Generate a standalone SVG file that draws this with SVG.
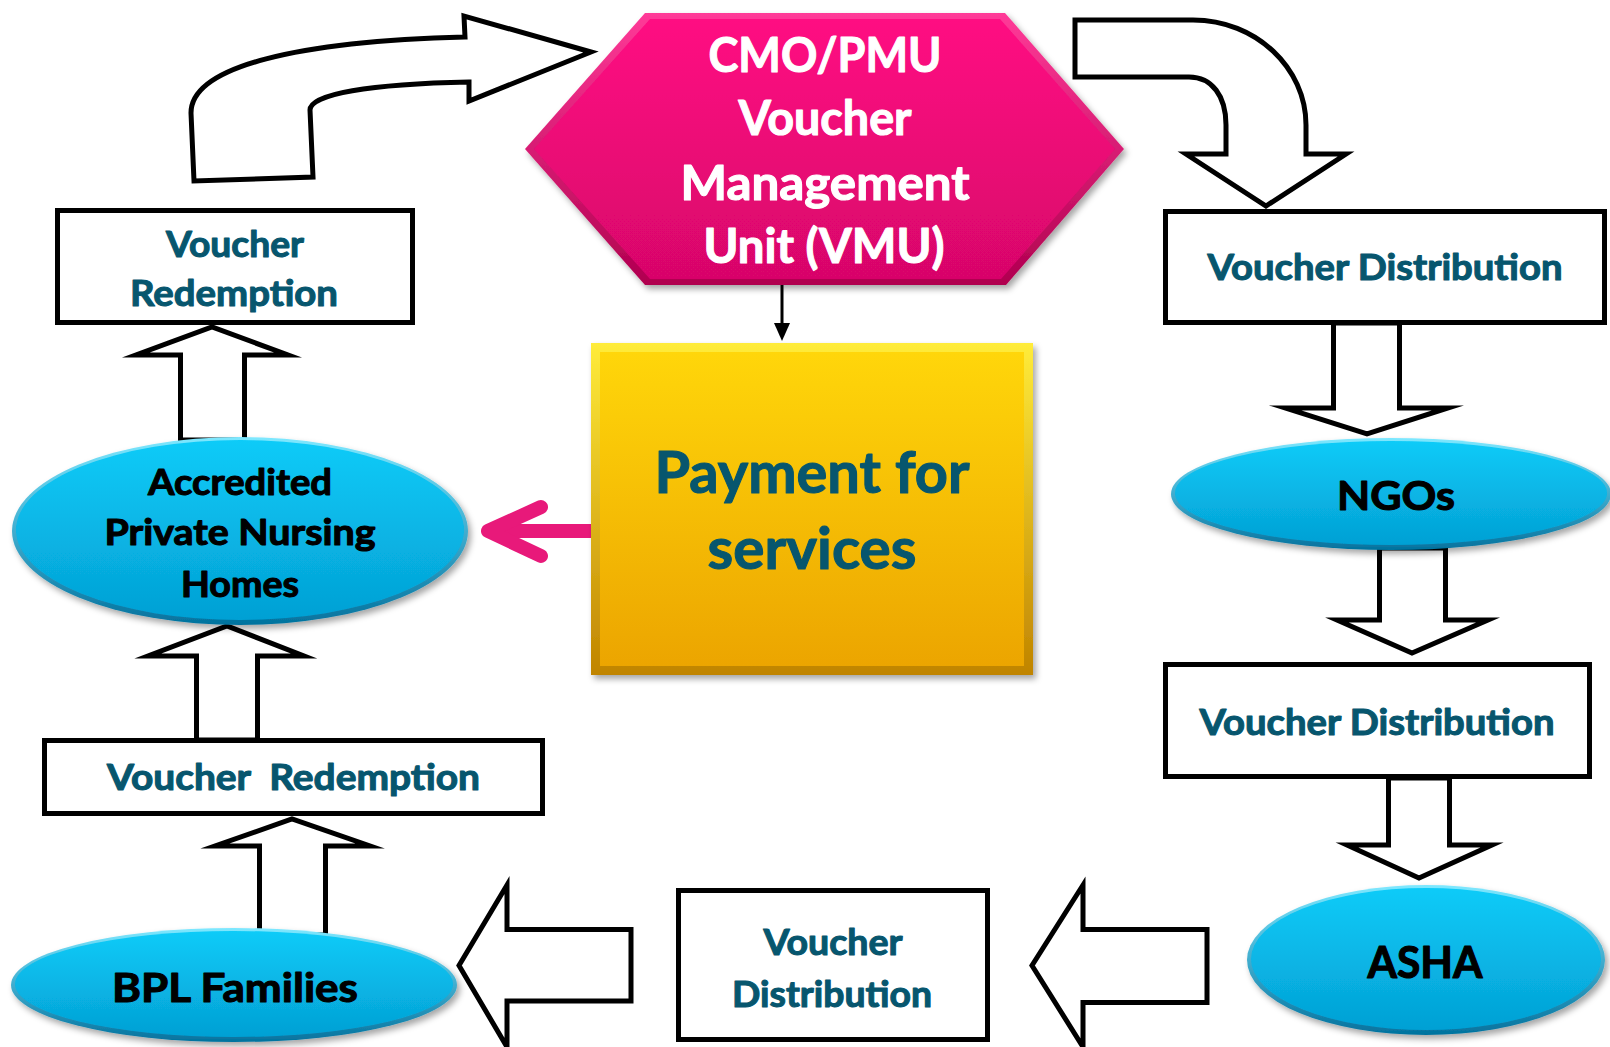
<svg xmlns="http://www.w3.org/2000/svg" width="1610" height="1047" viewBox="0 0 1610 1047">
  <defs>
    <linearGradient id="hexRim" x1="0" y1="0" x2="0" y2="1">
      <stop offset="0" stop-color="#ff3a98"/>
      <stop offset="1" stop-color="#b0004f"/>
    </linearGradient>
    <linearGradient id="hexFill" x1="0" y1="0" x2="0" y2="1">
      <stop offset="0" stop-color="#ff0a82"/>
      <stop offset="1" stop-color="#d8066a"/>
    </linearGradient>
    <linearGradient id="payRim" x1="0" y1="0" x2="0" y2="1">
      <stop offset="0" stop-color="#ffec3a"/>
      <stop offset="1" stop-color="#c08400"/>
    </linearGradient>
    <linearGradient id="payFill" x1="0" y1="0" x2="0" y2="1">
      <stop offset="0" stop-color="#ffd60a"/>
      <stop offset="1" stop-color="#eca500"/>
    </linearGradient>
    <linearGradient id="ovalRim" x1="0" y1="0" x2="0" y2="1">
      <stop offset="0" stop-color="#7ee8ff"/>
      <stop offset="1" stop-color="#03729e"/>
    </linearGradient>
    <linearGradient id="ovalFill" x1="0" y1="0" x2="0" y2="1">
      <stop offset="0" stop-color="#0ccbf8"/>
      <stop offset="1" stop-color="#04a0d4"/>
    </linearGradient>
    <filter id="shadow" x="-10%" y="-10%" width="125%" height="130%">
      <feDropShadow dx="3" dy="4" stdDeviation="3" flood-color="#000" flood-opacity="0.35"/>
    </filter>
  </defs>
  <style>
    .box { fill: #fff; stroke: #000; stroke-width: 5; }
    .block { fill: #fff; stroke: #000; stroke-width: 5; stroke-linejoin: miter; stroke-miterlimit: 10; }
    .lbl { font-family: Lato, "Liberation Sans", Arial, sans-serif; font-weight: 700; text-anchor: middle; stroke-width: 1.1; stroke-linejoin: round; }
    .teal { fill: #07566e; stroke: #07566e; font-size: 37px; }
    .dark { fill: #000; stroke: #000; }
    .white { fill: #fff; stroke: #fff; font-size: 48px; }
  </style>

  <rect width="1610" height="1047" fill="#fff"/>

  <g id="connectors">
    <!-- curved block arrow into the management unit -->
    <path class="block" d="M 194,181 L 191,113 C 191,66 300,41 465,37 L 464,16 L 591,52 L 469,101 L 469,82 C 370,84 310,94 310,110 L 313,177 Z"/>
    <!-- curved block arrow out to the first distribution -->
    <path class="block" d="M 1075,20 L 1193,20 C 1256,20 1306,68 1306,125 L 1306,154 L 1346,154 L 1266,206 L 1186,154 L 1226,154 L 1226,125 C 1226,96 1212,77 1189,77 L 1075,77 Z"/>
    <!-- unit to payment -->
    <line x1="782" y1="285" x2="782" y2="326" stroke="#000" stroke-width="3"/>
    <polygon points="774,323 790,323 782,341" fill="#000"/>
    <!-- payment to nursing homes -->
    <g stroke="#e8197a" stroke-width="14" stroke-linecap="round" stroke-linejoin="round" fill="none">
      <line x1="600" y1="531" x2="492" y2="531"/>
      <polyline points="541,507 488,531 541,556"/>
    </g>
    <!-- distribution to NGOs -->
    <polygon class="block" points="1333.5,323 1333.5,408 1285,408 1367,434 1448,408 1399.5,408 1399.5,323"/>
    <!-- NGOs to distribution -->
    <polygon class="block" points="1379.5,548 1379.5,620 1337,620 1412,653 1488,620 1445.5,620 1445.5,548"/>
    <!-- distribution to ASHA -->
    <polygon class="block" points="1388.5,778 1388.5,845 1347,845 1419,878 1492,845 1449.5,845 1449.5,778"/>
    <!-- ASHA to distribution -->
    <polygon class="block" points="1207,929.5 1083,929.5 1083,885 1032,965.5 1083,1047 1083,1002.5 1207,1002.5"/>
    <!-- distribution to BPL families -->
    <polygon class="block" points="631,929.5 507,929.5 507,885 459,965.5 507,1047 507,1001 631,1001"/>
    <!-- BPL families to redemption -->
    <polygon class="block" points="259.5,935 259.5,846 215,846 292,819 370,846 325.5,846 325.5,935"/>
    <!-- redemption to nursing homes -->
    <polygon class="block" points="196.5,740 196.5,656 148,656 227,626 304,656 257.5,656 257.5,740"/>
    <!-- nursing homes to redemption -->
    <polygon class="block" points="180.5,440 180.5,355 136,355 212,327 288,355 244.5,355 244.5,440"/>
  </g>

  <g id="vmu" filter="url(#shadow)">
    <polygon points="645,13 1005,13 1124,149 1006,285 645,285 525,149" fill="url(#hexRim)"/>
    <polygon points="650,19 1000,19 1115,149 1001,279 650,279 534,149" fill="url(#hexFill)"/>
  </g>
  <g id="vmu-label" class="lbl white">
    <text x="825" y="72" textLength="233" lengthAdjust="spacingAndGlyphs">CMO/PMU</text>
    <text x="825" y="135" textLength="173" lengthAdjust="spacingAndGlyphs">Voucher</text>
    <text x="825" y="200" textLength="289" lengthAdjust="spacingAndGlyphs">Management</text>
    <text x="824" y="263" textLength="241" lengthAdjust="spacingAndGlyphs">Unit (VMU)</text>
  </g>

  <g id="payment">
    <rect x="591" y="343" width="442" height="332" fill="url(#payRim)" filter="url(#shadow)"/>
    <rect x="600" y="352" width="424" height="314" fill="url(#payFill)"/>
    <text class="lbl" x="812" y="493" font-size="58" fill="#07566e" stroke="#07566e" stroke-width="1.4" textLength="315" lengthAdjust="spacingAndGlyphs">Payment for</text>
    <text class="lbl" x="812" y="569" font-size="58" fill="#07566e" stroke="#07566e" stroke-width="1.4" textLength="209" lengthAdjust="spacingAndGlyphs">services</text>
  </g>

  <g id="redemption-top">
    <rect class="box" x="57.5" y="210.5" width="355" height="112"/>
    <text class="lbl teal" x="235" y="257" textLength="138" lengthAdjust="spacingAndGlyphs">Voucher</text>
    <text class="lbl teal" x="234" y="306" textLength="208" lengthAdjust="spacingAndGlyphs">Redemption</text>
  </g>

  <g id="nursing-homes">
    <g filter="url(#shadow)">
      <ellipse cx="240" cy="531" rx="228" ry="94" fill="url(#ovalRim)"/>
      <ellipse cx="240" cy="530" rx="224" ry="90" fill="url(#ovalFill)"/>
    </g>
    <text class="lbl dark" x="240" y="495" font-size="37" textLength="184" lengthAdjust="spacingAndGlyphs">Accredited</text>
    <text class="lbl dark" x="240" y="545" font-size="37" textLength="271" lengthAdjust="spacingAndGlyphs">Private Nursing</text>
    <text class="lbl dark" x="240" y="597" font-size="37" textLength="118" lengthAdjust="spacingAndGlyphs">Homes</text>
  </g>

  <g id="redemption-bottom">
    <rect class="box" x="44.5" y="740.5" width="498" height="73"/>
    <text class="lbl teal" x="293.5" y="790" xml:space="preserve" textLength="373" lengthAdjust="spacingAndGlyphs">Voucher  Redemption</text>
  </g>

  <g id="bpl-families">
    <g filter="url(#shadow)">
      <ellipse cx="234" cy="985" rx="223" ry="57" fill="url(#ovalRim)"/>
      <ellipse cx="234" cy="984" rx="219" ry="53" fill="url(#ovalFill)"/>
    </g>
    <text class="lbl dark" x="235" y="1002" font-size="41" textLength="246" lengthAdjust="spacingAndGlyphs">BPL Families</text>
  </g>

  <g id="distribution-top">
    <rect class="box" x="1165.5" y="211.5" width="439" height="111"/>
    <text class="lbl teal" x="1385" y="280" textLength="355" lengthAdjust="spacingAndGlyphs">Voucher Distribution</text>
  </g>

  <g id="ngos">
    <g filter="url(#shadow)">
      <ellipse cx="1391" cy="494" rx="220" ry="56" fill="url(#ovalRim)"/>
      <ellipse cx="1391" cy="493" rx="216" ry="52" fill="url(#ovalFill)"/>
    </g>
    <text class="lbl dark" x="1396" y="510" font-size="41" textLength="118" lengthAdjust="spacingAndGlyphs">NGOs</text>
  </g>

  <g id="distribution-middle">
    <rect class="box" x="1165.5" y="664.5" width="424" height="112"/>
    <text class="lbl teal" x="1377" y="735" textLength="355" lengthAdjust="spacingAndGlyphs">Voucher Distribution</text>
  </g>

  <g id="asha">
    <g filter="url(#shadow)">
      <ellipse cx="1426" cy="960" rx="179" ry="75" fill="url(#ovalRim)"/>
      <ellipse cx="1426" cy="959" rx="175" ry="71" fill="url(#ovalFill)"/>
    </g>
    <text class="lbl dark" x="1425" y="978" font-size="43" textLength="115" lengthAdjust="spacingAndGlyphs">ASHA</text>
  </g>

  <g id="distribution-bottom">
    <rect class="box" x="678.5" y="890.5" width="309" height="149"/>
    <text class="lbl teal" x="833" y="955" textLength="139" lengthAdjust="spacingAndGlyphs">Voucher</text>
    <text class="lbl teal" x="832" y="1007" textLength="200" lengthAdjust="spacingAndGlyphs">Distribution</text>
  </g>
</svg>
